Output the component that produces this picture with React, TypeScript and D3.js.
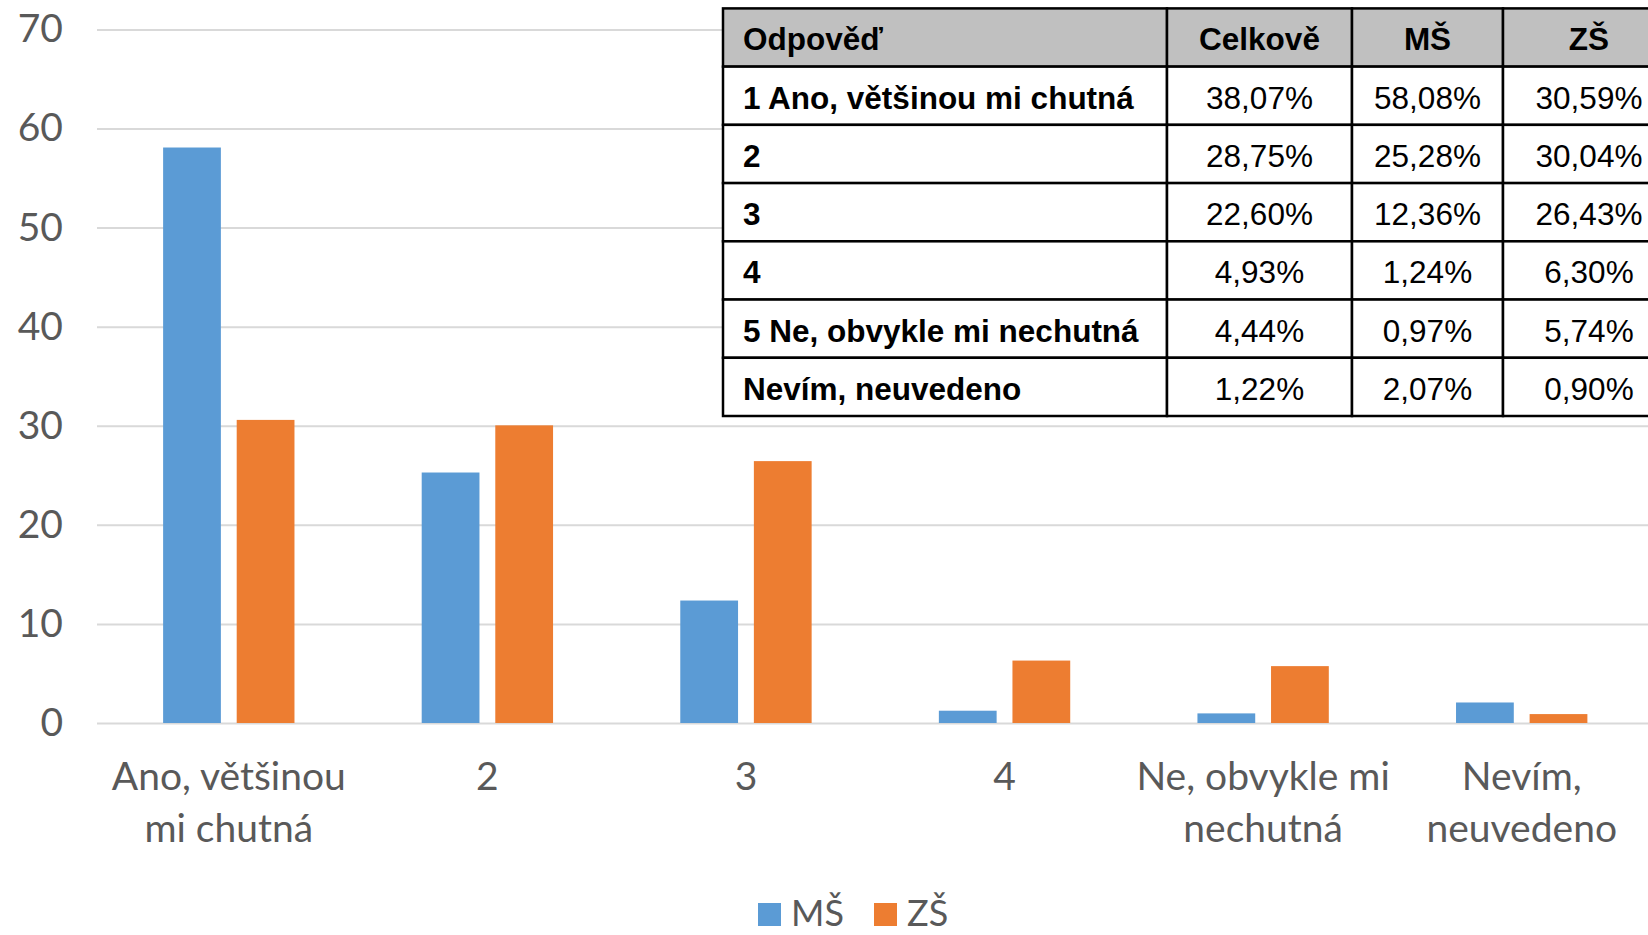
import React, { useEffect, useRef } from "react"
import * as d3 from "d3"

const categories = ["Ano, většinou\nmi chutná", "2", "3", "4", "Ne, obvykle mi\nnechutná", "Nevím,\nneuvedeno"]
const seriesNames = ["MŠ", "ZŠ"]
const msValues = [58.08, 25.28, 12.36, 1.24, 0.97, 2.07]
const zsValues = [30.59, 30.04, 26.43, 6.3, 5.74, 0.9]
const totalValues = [38.07, 28.75, 22.6, 4.93, 4.44, 1.22]
const yTicks = [0, 10, 20, 30, 40, 50, 60, 70]
const tableHeaders = ["Odpověď", "Celkově", "MŠ", "ZŠ"]
const tableLabels = ["1 Ano, většinou mi chutná", "2", "3", "4", "5 Ne, obvykle mi nechutná", "Nevím, neuvedeno"]

const colors = ["#5b9bd5", "#ed7d31"]

const W = 1648
const H = 935

export default function App() {
    const ref = useRef<SVGSVGElement>(null)

    useEffect(() => {
        const svg = d3.select(ref.current)
        svg.selectAll("*").remove()

        const margin = { top: 29.4, left: 97, right: 0, bottom: 212 }
        const y = d3.scaleLinear().domain([0, 70]).range([H - margin.bottom, margin.top])
        const x0 = d3.scaleBand().domain(categories).range([margin.left + 2.5, W + 3]).padding(0)
        const bw = x0.bandwidth()
        const x1 = d3.scaleBand().domain(seriesNames).range([bw * 0.246, bw * 0.754]).paddingInner(0.215)

        const font = "Lato, 'Open Sans', sans-serif"

        // grid + y labels
        const yAxis = svg.append("g")
            .attr("transform", `translate(${margin.left},0)`)
            .call(d3.axisLeft(y).tickValues(yTicks).tickSize(-(W - margin.left)).tickPadding(34))
        yAxis.select(".domain").remove()
        yAxis.selectAll(".tick line").attr("stroke", "#d9d9d9").attr("stroke-width", 2)
        yAxis.selectAll(".tick text")
            .attr("fill", "#595959")
            .attr("font-family", font)
            .attr("font-size", 39)

        // bars
        const rows = categories.map((c, i) => ({ cat: c, vals: [msValues[i], zsValues[i]] }))
        const groups = svg.append("g").selectAll("g")
            .data(rows).join("g")
            .attr("transform", d => `translate(${x0(d.cat)},0)`)
        groups.selectAll("rect")
            .data(d => d.vals.map((v, j) => ({ key: seriesNames[j], v, j })))
            .join("rect")
            .attr("x", d => x1(d.key)!)
            .attr("width", x1.bandwidth())
            .attr("y", d => y(d.v))
            .attr("height", d => y(0) - y(d.v))
            .attr("fill", d => colors[d.j])

        // x labels
        const xAxis = svg.append("g")
            .attr("transform", `translate(0,${y(0)})`)
            .call(d3.axisBottom(x0).tickSize(0).tickPadding(0))
        xAxis.select(".domain").remove()
        xAxis.selectAll(".tick text").each(function (d: any) {
            const t = d3.select(this)
            t.text(null)
                .attr("fill", "#595959")
                .attr("font-family", font)
                .attr("font-size", 39)
                .attr("dy", null)
                .attr("y", 0)
            String(d).split("\n").forEach((line, i) => {
                t.append("tspan").attr("x", 0).attr("y", 67 + i * 52).text(line)
            })
        })

        // legend
        const legend = svg.append("g").attr("transform", `translate(758,903)`)
        const legendX = [0, 116]
        seriesNames.forEach((s, i) => {
            legend.append("rect").attr("x", legendX[i]).attr("y", 0).attr("width", 23).attr("height", 23).attr("fill", colors[i])
            legend.append("text").attr("x", legendX[i] + 33).attr("y", 23)
                .attr("fill", "#595959").attr("font-family", font).attr("font-size", 36).text(s)
        })

        // table
        const colEdges = [723, 1167, 1352, 1503, 1675]
        const rowY = d3.scaleBand<number>().domain(d3.range(tableLabels.length + 1)).range([8.4, 416]).padding(0)
        const rh = rowY.bandwidth()
        const table = svg.append("g")
        const tFont = "'Liberation Sans', Arial, sans-serif"
        const tableData = [
            tableHeaders,
            ...tableLabels.map((l, i) => [l, ...[totalValues[i], msValues[i], zsValues[i]].map(v => v.toFixed(2).replace(".", ",") + "%")])
        ]
        tableData.forEach((row, r) => {
            row.forEach((cell, c) => {
                const x = colEdges[c]
                const w = colEdges[c + 1] - colEdges[c]
                table.append("rect")
                    .attr("x", x).attr("y", rowY(r)!).attr("width", w).attr("height", rh)
                    .attr("fill", r === 0 ? "#c0c0c0" : "#ffffff")
                    .attr("stroke", "#000").attr("stroke-width", 2.5)
            })
        })
        tableData.forEach((row, r) => {
            row.forEach((cell, c) => {
                const x = colEdges[c]
                const w = colEdges[c + 1] - colEdges[c]
                const center = c > 0 ? (c === 3 ? x + 86 : x + w / 2) : x + 20
                table.append("text")
                    .attr("x", center)
                    .attr("y", rowY(r)! + 42)
                    .attr("text-anchor", c > 0 ? "middle" : "start")
                    .attr("font-family", tFont)
                    .attr("font-size", 31.5)
                    .attr("font-weight", r === 0 || c === 0 ? "bold" : "normal")
                    .attr("fill", "#000")
                    .text(cell)
            })
        })
    }, [])

    return <svg ref={ref} width={W} height={H} style={{ position: "absolute", left: 0, top: 0, background: "#fff" }} />
}
